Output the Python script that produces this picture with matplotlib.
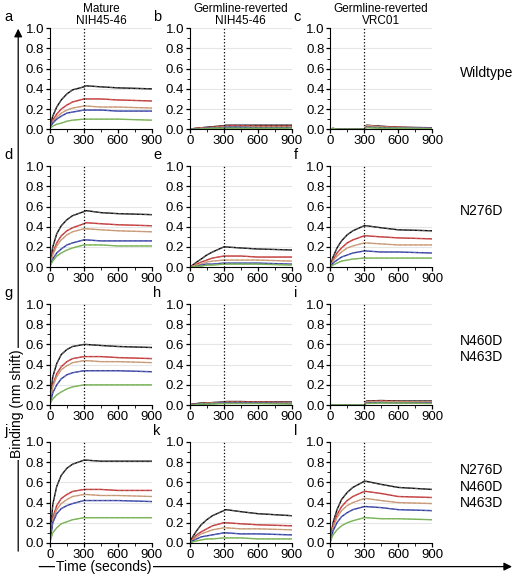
import matplotlib.pyplot as plt

T = [0, 25, 60, 100, 150, 200, 300, 320, 450, 600, 900]
colors = ["black", "#d62020", "#e0a070", "#2030b0", "#70c040"]

# panel -> curves (black, red, orange, blue, green)
panels = {
    "a": [[0.02, 0.13, 0.22, 0.29, 0.35, 0.39, 0.42, 0.43, 0.42, 0.41, 0.40],
          [0.02, 0.09, 0.15, 0.20, 0.24, 0.27, 0.30, 0.30, 0.30, 0.29, 0.28],
          [0.02, 0.07, 0.12, 0.16, 0.19, 0.21, 0.23, 0.23, 0.22, 0.22, 0.21],
          [0.02, 0.06, 0.10, 0.13, 0.16, 0.17, 0.19, 0.19, 0.19, 0.18, 0.18],
          [0.01, 0.03, 0.05, 0.06, 0.08, 0.09, 0.10, 0.10, 0.10, 0.10, 0.09]],
    "b": [[0.00, 0.005, 0.01, 0.015, 0.02, 0.025, 0.035, 0.04, 0.04, 0.04, 0.04],
          [0.00, 0.005, 0.01, 0.01, 0.015, 0.02, 0.03, 0.035, 0.035, 0.03, 0.03],
          [0.00, 0.00, 0.005, 0.01, 0.01, 0.015, 0.02, 0.025, 0.025, 0.02, 0.02],
          [0.00, 0.00, 0.005, 0.005, 0.01, 0.01, 0.015, 0.02, 0.02, 0.015, 0.015],
          [0.00, 0.00, 0.00, 0.005, 0.005, 0.01, 0.01, 0.01, 0.01, 0.01, 0.01]],
    "c": [[0.00, 0.00, 0.00, 0.00, 0.00, 0.00, 0.00, 0.04, 0.03, 0.02, 0.015],
          [0.00, 0.00, 0.00, 0.00, 0.00, 0.00, 0.00, 0.035, 0.025, 0.02, 0.01],
          [0.00, 0.00, 0.00, 0.00, 0.00, 0.00, 0.00, 0.04, 0.02, 0.015, 0.01],
          [0.00, 0.01, 0.00, 0.00, 0.00, 0.00, 0.00, 0.02, 0.015, 0.01, 0.01],
          [0.00, 0.01, 0.00, 0.00, 0.00, 0.00, 0.00, 0.015, 0.01, 0.01, 0.005]],
    "d": [[0.02, 0.20, 0.33, 0.41, 0.47, 0.51, 0.55, 0.56, 0.54, 0.53, 0.52],
          [0.01, 0.14, 0.24, 0.31, 0.36, 0.39, 0.43, 0.44, 0.43, 0.42, 0.41],
          [0.01, 0.12, 0.21, 0.27, 0.32, 0.35, 0.38, 0.38, 0.37, 0.36, 0.35],
          [0.01, 0.08, 0.14, 0.18, 0.22, 0.24, 0.27, 0.27, 0.26, 0.26, 0.26],
          [0.01, 0.06, 0.11, 0.14, 0.17, 0.19, 0.22, 0.22, 0.22, 0.21, 0.21]],
    "e": [[0.00, 0.02, 0.05, 0.08, 0.12, 0.15, 0.20, 0.20, 0.19, 0.18, 0.17],
          [0.00, 0.01, 0.03, 0.05, 0.07, 0.09, 0.11, 0.11, 0.11, 0.10, 0.10],
          [0.00, 0.01, 0.02, 0.03, 0.05, 0.06, 0.07, 0.07, 0.07, 0.07, 0.06],
          [0.00, 0.00, 0.01, 0.02, 0.03, 0.03, 0.04, 0.04, 0.04, 0.04, 0.03],
          [0.00, 0.00, 0.01, 0.01, 0.02, 0.02, 0.03, 0.03, 0.03, 0.03, 0.02]],
    "f": [[0.01, 0.10, 0.19, 0.26, 0.32, 0.36, 0.41, 0.41, 0.39, 0.37, 0.36],
          [0.01, 0.07, 0.14, 0.19, 0.24, 0.27, 0.31, 0.31, 0.30, 0.29, 0.28],
          [0.01, 0.06, 0.11, 0.15, 0.19, 0.21, 0.24, 0.24, 0.23, 0.22, 0.22],
          [0.00, 0.04, 0.07, 0.10, 0.12, 0.14, 0.16, 0.16, 0.15, 0.15, 0.14],
          [0.00, 0.02, 0.04, 0.06, 0.07, 0.08, 0.09, 0.09, 0.09, 0.09, 0.09]],
    "g": [[0.02, 0.28, 0.41, 0.50, 0.55, 0.58, 0.60, 0.60, 0.59, 0.58, 0.57],
          [0.02, 0.20, 0.31, 0.38, 0.43, 0.46, 0.48, 0.48, 0.48, 0.47, 0.46],
          [0.02, 0.18, 0.28, 0.35, 0.39, 0.42, 0.44, 0.44, 0.43, 0.43, 0.42],
          [0.01, 0.12, 0.20, 0.26, 0.30, 0.32, 0.34, 0.34, 0.34, 0.34, 0.33],
          [0.01, 0.06, 0.10, 0.13, 0.16, 0.18, 0.20, 0.20, 0.20, 0.20, 0.20]],
    "h": [[0.00, 0.01, 0.015, 0.02, 0.02, 0.025, 0.03, 0.035, 0.035, 0.03, 0.03],
          [0.00, 0.01, 0.01, 0.015, 0.02, 0.02, 0.025, 0.03, 0.03, 0.03, 0.025],
          [0.00, 0.005, 0.01, 0.01, 0.015, 0.02, 0.02, 0.025, 0.025, 0.02, 0.02],
          [0.00, 0.005, 0.01, 0.01, 0.01, 0.015, 0.02, 0.02, 0.02, 0.02, 0.015],
          [0.00, 0.00, 0.005, 0.01, 0.01, 0.01, 0.015, 0.015, 0.015, 0.015, 0.01]],
    "i": [[0.00, 0.00, 0.00, 0.00, 0.00, 0.00, 0.00, 0.04, 0.045, 0.04, 0.04],
          [0.00, 0.00, 0.00, 0.00, 0.00, 0.00, 0.00, 0.035, 0.04, 0.035, 0.03],
          [0.00, 0.00, 0.00, 0.00, 0.00, 0.00, 0.00, 0.03, 0.035, 0.03, 0.03],
          [0.00, 0.00, 0.00, 0.00, 0.00, 0.00, 0.00, 0.02, 0.025, 0.02, 0.02],
          [0.00, 0.00, 0.00, 0.00, 0.00, 0.00, 0.00, 0.015, 0.02, 0.02, 0.015]],
    "j": [[0.02, 0.38, 0.56, 0.67, 0.74, 0.78, 0.82, 0.82, 0.81, 0.81, 0.81],
          [0.02, 0.25, 0.37, 0.44, 0.48, 0.51, 0.53, 0.53, 0.53, 0.52, 0.52],
          [0.02, 0.22, 0.33, 0.39, 0.43, 0.46, 0.48, 0.48, 0.47, 0.47, 0.46],
          [0.01, 0.20, 0.29, 0.34, 0.37, 0.39, 0.42, 0.42, 0.42, 0.42, 0.41],
          [0.01, 0.10, 0.15, 0.19, 0.21, 0.23, 0.25, 0.25, 0.25, 0.25, 0.25]],
    "k": [[0.00, 0.06, 0.12, 0.18, 0.23, 0.27, 0.32, 0.33, 0.31, 0.29, 0.27],
          [0.00, 0.04, 0.08, 0.11, 0.14, 0.17, 0.20, 0.20, 0.19, 0.18, 0.17],
          [0.00, 0.03, 0.06, 0.09, 0.11, 0.13, 0.15, 0.15, 0.14, 0.14, 0.13],
          [0.00, 0.02, 0.04, 0.06, 0.07, 0.08, 0.10, 0.10, 0.09, 0.09, 0.08],
          [0.00, 0.01, 0.02, 0.03, 0.04, 0.04, 0.05, 0.05, 0.05, 0.04, 0.04]],
    "l": [[0.02, 0.20, 0.33, 0.43, 0.50, 0.55, 0.61, 0.61, 0.58, 0.55, 0.53],
          [0.02, 0.17, 0.28, 0.36, 0.42, 0.46, 0.51, 0.51, 0.49, 0.46, 0.45],
          [0.01, 0.15, 0.25, 0.32, 0.37, 0.40, 0.44, 0.44, 0.42, 0.40, 0.39],
          [0.01, 0.12, 0.20, 0.26, 0.30, 0.33, 0.36, 0.36, 0.35, 0.33, 0.32],
          [0.01, 0.08, 0.13, 0.17, 0.20, 0.22, 0.25, 0.25, 0.24, 0.24, 0.23]],
}

col_titles = ["Mature\nNIH45-46", "Germline-reverted\nNIH45-46", "Germline-reverted\nVRC01"]
row_labels = ["Wildtype", "N276D", "N460D\nN463D", "N276D\nN460D\nN463D"]

plt.rcParams["font.family"] = "Liberation Sans"
fig = plt.figure(figsize=(5.2, 5.77), dpi=100)

lefts = [0.096, 0.365, 0.635]
bottoms = [0.776, 0.537, 0.298, 0.059]
W, H = 0.196, 0.175

# overlay for the long axis arrows
over = fig.add_axes([0, 0, 1, 1], zorder=-1)
over.set_xlim(0, 1)
over.set_ylim(0, 1)
over.axis("off")
over.annotate("", xy=(0.035, 0.955), xytext=(0.035, 0.04),
              arrowprops=dict(arrowstyle="-|>", color="black", lw=0.9, mutation_scale=12))
over.annotate("", xy=(0.99, 0.018), xytext=(0.07, 0.018),
              arrowprops=dict(arrowstyle="-|>", color="black", lw=0.9, mutation_scale=12))
over.text(0.033, 0.30, "Binding (nm shift)", rotation=90, fontsize=10, ha="center", va="center",
          bbox=dict(facecolor="white", edgecolor="none", pad=1))
over.text(0.2, 0.018, "Time (seconds)", fontsize=10, ha="center", va="center",
          bbox=dict(facecolor="white", edgecolor="none", pad=1))

letters = list(panels.keys())
for r in range(4):
    for c in range(3):
        key = letters[r * 3 + c]
        ax = fig.add_axes([lefts[c], bottoms[r], W, H])
        for y in [0.2, 0.4, 0.6, 0.8, 1.0]:
            ax.axhline(y, color="#e6e6e6", lw=0.8, zorder=0)
        for vals, col in zip(panels[key], colors):
            ax.plot(T, vals, color=col, lw=1.0)
            ax.plot(T, vals, color="#999999", lw=0.7, ls="--", alpha=0.6)
        ax.axvline(300, color="black", lw=0.9, ls=":")
        ax.set_xlim(0, 900)
        ax.set_ylim(0, 1.0)
        ax.set_xticks([0, 300, 600, 900])
        ax.set_xticks([150, 450, 750], minor=True)
        ax.set_yticks([0, 0.2, 0.4, 0.6, 0.8, 1.0])
        ax.set_yticks([0.1, 0.3, 0.5, 0.7, 0.9], minor=True)
        ax.yaxis.set_major_formatter(plt.FormatStrFormatter("%.1f"))
        ax.tick_params(labelsize=9.5, length=3, width=0.9, pad=1)
        ax.tick_params(which="minor", length=2)
        for s in ["top", "right"]:
            ax.spines[s].set_visible(False)
        lx = -0.45 if c == 0 else -0.36
        ax.text(lx, 1.04, key, transform=ax.transAxes, fontsize=10.5, va="bottom")
        if r == 0:
            ax.set_title(col_titles[c], fontsize=8.5, pad=3, linespacing=1.0)
    fig.text(0.885, bottoms[r] + H / 2 + 0.01, row_labels[r], fontsize=10, va="center", ha="left", linespacing=1.2)

fig.savefig("out.png", dpi=100)
